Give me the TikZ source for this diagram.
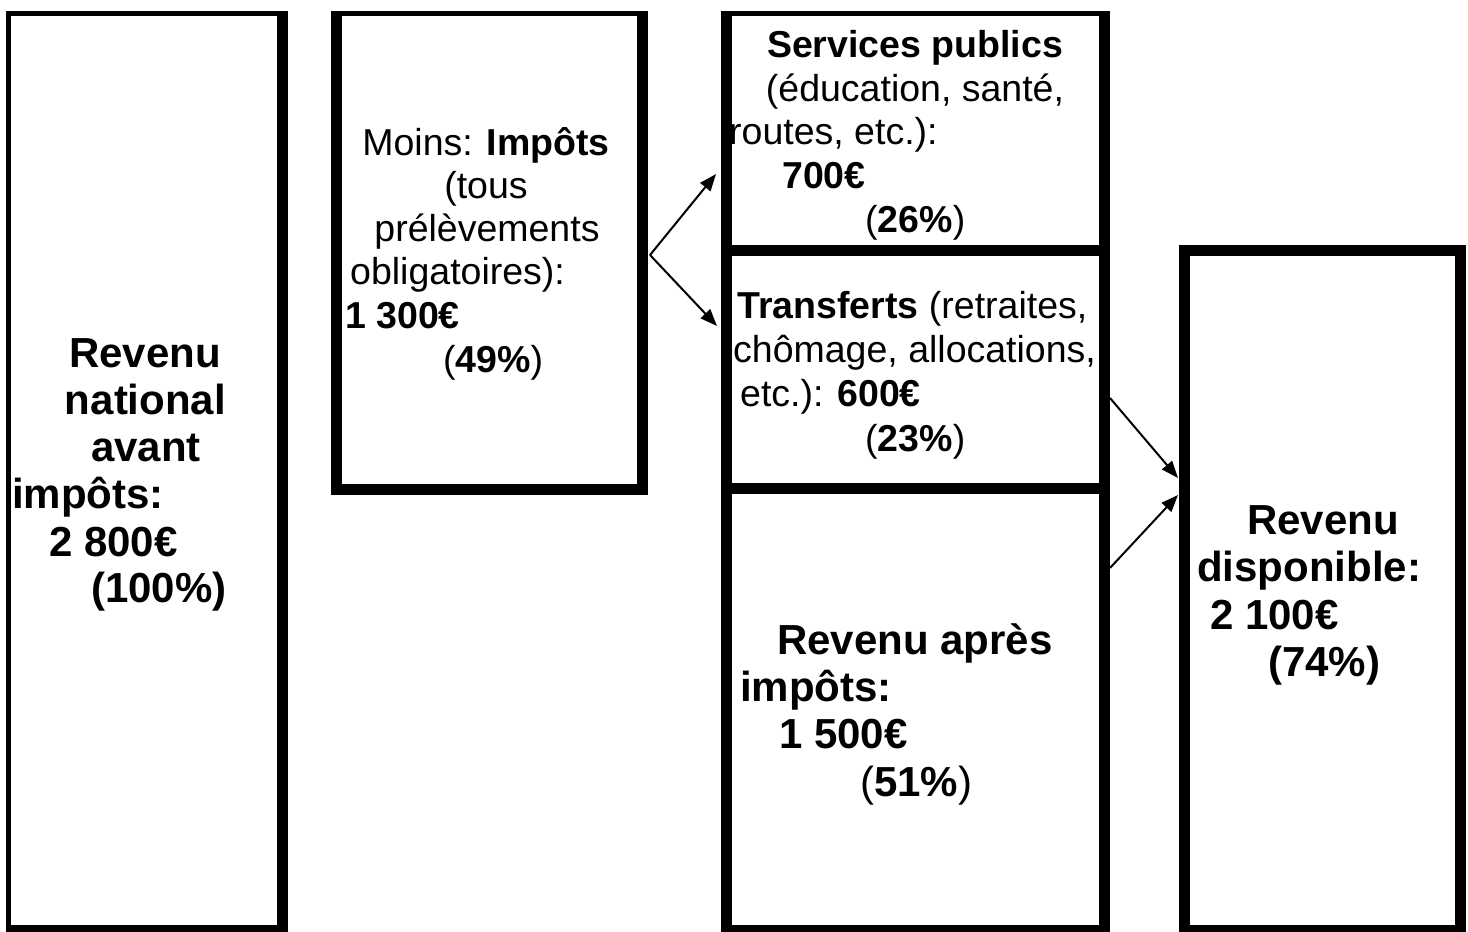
\documentclass[tikz,border=0pt]{standalone}
\usepackage{fontspec}
\setmainfont{Liberation Sans}
\usetikzlibrary{arrows.meta,calc}
\newcommand\drawframe[5]{%
  \fill (#1.north west) rectangle ($(#1.south west)+(#2,0)$);
  \fill (#1.north west) rectangle ($(#1.north east)+(0,#3)$);
  \fill ($(#1.north east)-(#4,0)$) rectangle (#1.south east);
  \fill ($(#1.south west)-(0,#5)$) rectangle (#1.south east);
}
\begin{document}
\begin{tikzpicture}[x=1pt,y=-1pt,
  frame/.style={inner sep=0pt, outer sep=0pt, draw=none},
  nrm/.style={font=\fontsize{37.5}{43}\selectfont, inner sep=0pt, anchor=base west},
  nrmc/.style={nrm, anchor=base},
  bld/.style={font=\fontsize{42}{47}\selectfont\bfseries, inner sep=0pt, anchor=base west},
  bldc/.style={bld, anchor=base},
  arr/.style={line width=2pt, -{Triangle[length=17pt,width=13pt]}}
]
\fill[white] (0,0) rectangle (1468,932);
\useasboundingbox (0,0) rectangle (1468,932);

% box nodes
\node[frame, minimum width=282pt, minimum height=925pt] (b1) at (147,473.5) {};
\node[frame, minimum width=317pt, minimum height=484pt] (b2) at (489.5,253) {};
\node[frame, minimum width=389pt, minimum height=245pt] (b3) at (915.5,133.5) {};
\node[frame, minimum width=389pt, minimum height=249pt] (b4) at (915.5,369.5) {};
\node[frame, minimum width=389pt, minimum height=453pt] (b5) at (915.5,709.5) {};
\node[frame, minimum width=287pt, minimum height=691pt] (b6) at (1322.5,590.5) {};

% box 1 text
\node[bldc] (t1a) at (145,367) {Revenu};
\node[bldc] (t1b) at (145.5,414) {national};
\node[bldc] (t1c) at (146,461) {avant};
\node[bld] (t1d) at (12,508) {impôts:};
\node[bld] (t1e) at (49,556) {2 800€};
\node[bld] (t1f) at (91,602) {(100\%)};

% box 2 text
\node[nrmc] (t2a) at (486,155) {Moins: \textbf{Impôts}};
\node[nrmc] (t2b) at (486,198) {(tous};
\node[nrmc] (t2c) at (487,241) {prélèvements};
\node[nrm] (t2d) at (350,284) {obligatoires):};
\node[nrm] (t2e) at (345,328) {\textbf{1 300€}};
\node[nrm] (t2f) at (443,372) {(\textbf{49\%})};

% box 3 text
\node[nrmc] (t3a) at (915,57) {\textbf{Services publics}};
\node[nrmc] (t3b) at (915,101) {(éducation, santé,};
\node[nrm] (t3c) at (729,144) {routes, etc.):};
\node[nrm] (t3d) at (782,188) {\textbf{700€}};
\node[nrm] (t3e) at (865,232) {(\textbf{26\%})};

% box 4 text
\node[nrm] (t4a) at (737,318) {\textbf{Transferts} (retraites,};
\node[nrm] (t4b) at (733,362) {chômage, allocations,};
\node[nrm] (t4c) at (740,406) {etc.): \textbf{600€}};
\node[nrm] (t4d) at (865,451) {(\textbf{23\%})};

% box 5 text
\node[bldc] (t5a) at (915,654) {Revenu après};
\node[bld] (t5b) at (740,701) {impôts:};
\node[bld] (t5c) at (779,748) {1 500€};
\node[bld] (t5d) at (860,796) {{\mdseries(}51\%{\mdseries)}};

% box 6 text
\node[bldc] (t6a) at (1323,534) {Revenu};
\node[bld] (t6b) at (1197,581) {disponible:};
\node[bld] (t6c) at (1210,629) {2 100€};
\node[bld] (t6d) at (1268,676) {(74\%)};

% frames
\drawframe{b1}{5}{5}{11}{11}
\drawframe{b2}{11}{5}{11}{11}
\drawframe{b3}{11}{5}{11}{11}
\drawframe{b4}{11}{11}{11}{11}
\drawframe{b5}{11}{11}{11}{11}
\drawframe{b6}{11}{11}{11}{11}

% connectors
\coordinate (s1) at (650,255);
\coordinate (e1) at (716,174);
\coordinate (e2) at (717,326);
\coordinate (s2) at (1110,398);
\coordinate (s3) at (1110,568);
\coordinate (e3) at (1178,478);
\coordinate (e4) at (1178,495);
\draw[arr] (s1) -- (e1);
\draw[arr] (s1) -- (e2);
\draw[arr] (s2) -- (e3);
\draw[arr] (s3) -- (e4);
\end{tikzpicture}
\end{document}
